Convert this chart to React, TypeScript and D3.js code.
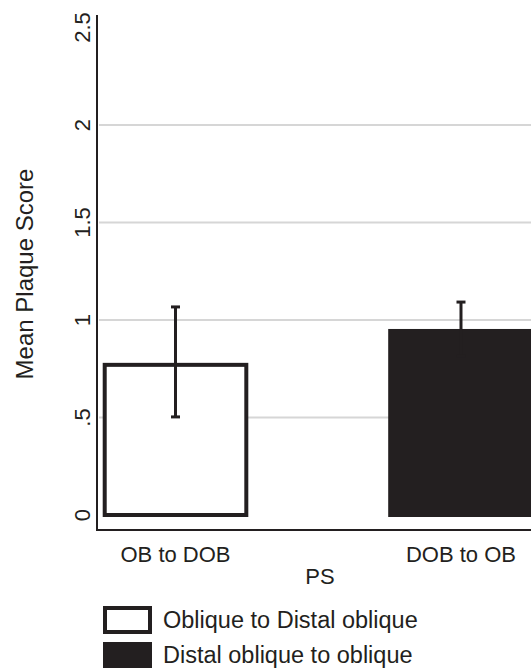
import React from 'react';
import * as d3 from 'd3';

const groups = ['OB to DOB', 'DOB to OB'];
const means = [0.77, 0.954];
const upper = [1.067, 1.092];
const lower = [0.503, 0.816];
const yTicks = [0, 0.5, 1, 1.5, 2, 2.5];
const tickLabels = ['0', '.5', '1', '1.5', '2', '2.5'];
const gridValues = [0.5, 1, 1.5, 2];
const legendLabels = ['Oblique to Distal oblique', 'Distal oblique to oblique'];
const fills = ['#ffffff', '#231f20'];

const W = 531;
const H = 668;
const ink = '#231f20';
const font = '"Liberation Sans", Arial, sans-serif';

export default function App() {
  const axisX = 97;
  const axisBottom = 530;

  const y = d3.scaleLinear().domain([0, 2.5]).range([515, 27.5]);
  const x = d3.scaleBand<string>()
    .domain(groups)
    .range([axisX, 539.5])
    .paddingInner(0.49)
    .paddingOuter(0.02);

  return (
    <svg width={W} height={H} style={{position: 'absolute', left: 0, top: 0, background: '#fff'}}>
      <rect width={W} height={H} fill="#fff" />

      {/* gridlines */}
      {gridValues.map(v => (
        <line key={v} x1={axisX + 2} x2={W} y1={y(v)} y2={y(v)} stroke="#d6d6d6" strokeWidth={2} />
      ))}

      {/* bars */}
      {groups.map((g, i) => {
        const bx = x(g)!;
        const bw = x.bandwidth();
        const outline = i === 0;
        return outline ? (
          <rect key={g} x={bx + 2} y={y(means[i])} width={bw - 4} height={y(0) - y(means[i])}
            fill={fills[i]} stroke={ink} strokeWidth={4} />
        ) : (
          <rect key={g} x={bx} y={y(means[i])} width={bw} height={y(0) - y(means[i]) + 2}
            fill={fills[i]} />
        );
      })}

      {/* error bars */}
      {groups.map((g, i) => {
        const cx = x(g)! + x.bandwidth() / 2;
        return (
          <g key={g} stroke={ink} strokeWidth={3}>
            <line x1={cx} x2={cx} y1={y(upper[i])} y2={y(lower[i])} />
            <line x1={cx - 4.5} x2={cx + 4.5} y1={y(upper[i])} y2={y(upper[i])} />
            <line x1={cx - 4.5} x2={cx + 4.5} y1={y(lower[i])} y2={y(lower[i])} />
          </g>
        );
      })}

      {/* axes */}
      <line x1={axisX} x2={axisX} y1={15} y2={axisBottom + 1} stroke={ink} strokeWidth={2} />
      <line x1={axisX} x2={W} y1={axisBottom} y2={axisBottom} stroke={ink} strokeWidth={2} />

      {/* y tick labels */}
      {yTicks.map((v, i) => (
        <text key={v} transform={`translate(90,${y(v)}) rotate(-90)`} textAnchor="middle"
          fontFamily={font} fontSize={22} fill={ink}>{tickLabels[i]}</text>
      ))}

      <text transform={`translate(33,274) rotate(-90)`} textAnchor="middle"
        fontFamily={font} fontSize={24} fill={ink}>Mean Plaque Score</text>

      {/* x labels */}
      {groups.map(g => (
        <text key={g} x={x(g)! + x.bandwidth() / 2} y={562} textAnchor="middle"
          fontFamily={font} fontSize={22} fill={ink}>{g}</text>
      ))}
      <text x={320} y={584} textAnchor="middle" fontFamily={font} fontSize={22} fill={ink}>PS</text>

      {/* legend */}
      {legendLabels.map((lab, i) => (
        <g key={lab}>
          {i === 0 ? (
            <rect x={105} y={608} width={45} height={24} fill={fills[i]} stroke={ink} strokeWidth={4} />
          ) : (
            <rect x={103} y={642} width={49} height={28} fill={fills[i]} />
          )}
          <text x={163} y={i === 0 ? 628 : 663} fontFamily={font} fontSize={23.5} fill={ink}>{lab}</text>
        </g>
      ))}
    </svg>
  );
}
